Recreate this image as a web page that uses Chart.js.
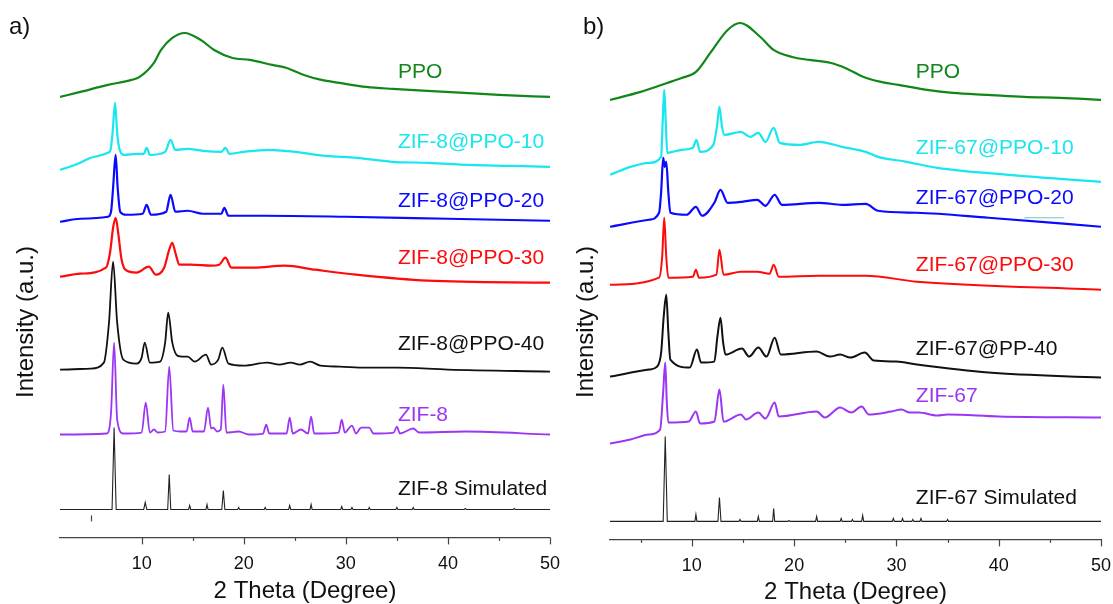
<!DOCTYPE html>
<html>
<head>
<meta charset="utf-8">
<script src="https://cdn.jsdelivr.net/npm/chart.js@4.4.1/dist/chart.umd.min.js"></script>
<style>
  body { margin: 0; background: #fff; overflow: hidden; }
  #wrap { position: relative; width: 1113px; height: 604px; }
  canvas { position: absolute; top: 0; }
  #chartA { left: 0; }
  #chartB { left: 556px; }
</style>
</head>
<body>
<div id="wrap">
  <canvas id="chartA" width="560" height="604"></canvas>
  <canvas id="chartB" width="557" height="604"></canvas>
</div>
<script>
// x axis ticks (2 Theta, degree)
const xTicks = [10, 20, 30, 40, 50];
const minorTicks = [5, 15, 25, 35, 45];

// ---- panel a) [2theta, offset intensity a.u.] ----
const ppoA = [[2,441],[4,446],[6.7,453],[9,458],[9.8,461],[11.2,475],[11.9,488],[13,500],[14.2,505],[15.8,498],[17.1,488],[18.9,480],[20.6,478],[22.8,473],[24.2,470],[25.9,463],[27.6,458],[29.4,455],[32,451],[34.6,449],[38,447],[41.6,445],[45,443],[50,441]];
const zif8Ppo10 = [[2,368],[3.5,373],[5,380],[6.7,385],[6.95,388],[7.15,405],[7.39,435],[7.6,405],[7.85,388],[8.3,383],[9.5,384],[10.2,384],[10.49,390],[10.8,383],[12.3,386],[12.83,398],[13.3,388],[14.5,389],[16,387],[17.8,386],[18.2,390],[18.6,384],[20,386],[22.4,388],[25,386],[28,382],[31.1,380],[34.5,376],[38.1,375],[42,373],[46,372],[50,371]];
const zif8Ppo20 = [[2,316],[4,319],[6.7,321],[7.0,326],[7.2,350],[7.45,383],[7.65,350],[7.9,326],[8.5,323],[10.1,324],[10.49,333],[10.9,323],[12.4,326],[12.83,343],[13.3,326],[14.5,327],[16,324],[17.8,324],[18.1,330],[18.5,322],[22,322],[30,321],[40,319],[50,317]];
const zif8Ppo30 = [[2,261],[4,264],[6.5,270],[6.9,285],[7.2,310],[7.45,320],[7.7,305],[8.0,280],[8.4,268],[9.5,265],[10.7,271],[11.4,263],[12.2,270],[12.7,288],[13.0,295],[13.3,285],[13.7,273],[14.8,273],[16.8,272],[17.6,273],[18.2,280],[18.8,270],[21,270],[24,272],[27,268],[31,263],[38,257],[50,255]];
const zif8Ppo40 = [[2,168],[5,169],[6.3,175],[6.8,215],[7.2,276],[7.6,215],[8.2,178],[9.5,174],[10.0,180],[10.3,195],[10.8,175],[11.8,176],[12.3,195],[12.6,225],[13.0,195],[13.5,182],[14.0,181],[14.5,181],[15.2,176],[16.3,183],[16.8,173],[17.5,178],[17.9,190],[18.5,174],[20,172],[22.3,175],[23.5,173],[24.6,175],[25.5,173],[26.5,176],[27.5,172],[29.4,171],[32,170],[35,170],[40,168],[50,166]];
const zif8 = [[2,103],[6.6,104],[7.0,125],[7.3,195],[7.6,118],[8.2,104],[10.0,105],[10.4,135],[10.8,105],[11.2,108],[11.6,105],[12.3,106],[12.7,171],[13.1,107],[13.8,106],[14.4,106],[14.7,120],[15.0,106],[16.1,106],[16.5,130],[16.8,109],[17.0,110],[17.4,106],[17.75,108],[18.0,153],[18.3,105],[19.5,106],[20.5,103],[21.9,104],[22.2,113],[22.5,104],[24.2,104],[24.5,120],[24.8,104],[25.6,108],[26.3,104],[26.6,121],[26.9,104],[29.3,105],[29.6,118],[29.9,105],[30.6,112],[31.0,104],[31.5,110],[32.3,110],[32.7,104],[34.7,105],[35.0,111],[35.3,104],[36.6,109],[37.2,105],[41.7,106],[50,103]];
const zif8Sim = [[2,28],[7.1,28],[7.3,110],[7.5,28],[10.2,28],[10.35,35],[10.5,28],[12.55,28],[12.7,63],[12.85,28],[14.6,28],[14.7,32],[14.8,28],[16.3,28],[16.4,33],[16.5,28],[17.85,28],[18.0,47],[18.15,28],[19.4,28],[19.5,30],[19.6,28],[22.0,28],[22.1,30],[22.2,28],[24.4,28],[24.5,32],[24.6,28],[26.5,28],[26.6,33],[26.7,28],[29.5,28],[29.6,31],[29.7,28],[30.5,28],[30.6,30],[30.7,28],[32.2,28],[32.3,30],[32.4,28],[34.9,28],[35.0,30],[35.1,28],[36.5,28],[36.6,30],[36.7,28],[41.6,28],[41.7,29],[41.8,28],[46.4,28],[46.5,29],[46.6,28],[50,28]];

// ---- panel b) ----
const ppoB = [[2,442],[5,450],[7.6,459],[9,464],[10.4,470],[11.8,489],[13.5,512],[14.7,519],[16.7,505],[18,492],[19.8,485],[21.5,482],[23.6,479],[25,474],[26.8,465],[28.5,460],[30.2,457],[33,452],[35.5,449],[39,447],[42.5,445],[46,444],[50,442]];
const zif67Ppo10 = [[2,367],[4,375],[5.8,379],[7.0,385],[7.15,420],[7.3,452],[7.45,420],[7.6,389],[9,392],[10.1,394],[10.45,402],[10.8,390],[12.1,397],[12.45,415],[12.7,435],[12.95,415],[13.2,407],[14.8,410],[15.7,405],[16.5,409],[17.2,400],[18.0,414],[18.6,399],[20.5,397],[22.4,400],[24.7,395],[27,390],[28.2,385],[31,380],[34,374],[41,367],[50,360]];
const zif67Ppo20 = [[2,315],[5.8,322],[6.8,329],[7.0,350],[7.2,384],[7.35,375],[7.5,380],[7.7,350],[7.9,329],[9.5,327],[10.4,335],[11,326],[12.2,339],[12.8,352],[13.5,339],[14.9,340],[16.4,342],[17.2,336],[18.1,347],[18.8,337],[22.4,339],[24.7,337],[27,338],[28.2,331],[32,329],[39,324],[50,315]];
const strayLine = [[42.5,324],[46.4,324]];
const zif67Ppo30 = [[2,257],[6.8,264],[7.1,285],[7.3,324],[7.5,285],[7.7,264],[10.1,265],[10.4,272],[10.7,264],[12.4,267],[12.7,292],[13.1,267],[14.8,270],[16.4,270],[17.6,268],[18.0,277],[18.5,265],[22.4,266],[27,266],[32,260],[50,252]];
const zif67Pp40 = [[2,165],[5.8,172],[6.6,175],[7.0,189],[7.25,225],[7.5,247],[7.7,210],[7.9,182],[9.8,174],[10.5,192],[10.9,179],[12.2,180],[12.5,205],[12.8,224],[13.05,200],[13.3,187],[14.9,193],[15.6,185],[16.5,194],[17.3,185],[18.1,204],[18.7,187],[22.2,190],[23.5,185],[24.5,187],[25.5,184],[26.9,189],[27.8,181],[30,180],[32,177],[39,169],[50,164]];
const zif67 = [[2,98],[4,102],[5.8,107],[6.9,112],[7.2,150],[7.4,179],[7.55,140],[7.7,119],[9.7,120],[10.4,130],[10.8,118],[12.2,120],[12.7,152],[13.1,120],[14.8,127],[15.3,122],[16.5,129],[17.2,123],[18.1,139],[18.5,125],[22.2,130],[23,124],[24.5,134],[25.6,129],[26.6,135],[27.3,127],[29.5,130],[30.5,132],[31.3,129],[32.2,129],[34,126],[35,127],[40,125],[50,124]];
const zif67Sim = [[2,20],[7.2,20],[7.4,105],[7.6,20],[10.3,20],[10.4,27],[10.5,20],[12.55,20],[12.7,44],[12.85,20],[14.6,20],[14.7,22],[14.8,20],[16.4,20],[16.5,25],[16.6,20],[17.9,20],[18.0,33],[18.1,20],[19.4,20],[19.5,21],[19.6,20],[22.1,20],[22.2,25],[22.3,20],[24.5,20],[24.6,23],[24.7,20],[25.6,20],[25.7,22],[25.8,20],[26.6,20],[26.7,26],[26.8,20],[29.6,20],[29.7,23],[29.8,20],[30.5,20],[30.6,23],[30.7,20],[31.5,20],[31.6,22],[31.7,20],[32.3,20],[32.4,23],[32.5,20],[34.9,20],[35.0,22],[35.1,20],[50,20]];

const FONT = '"Liberation Sans", Arial, sans-serif';
const GREEN = '#11871a', CYAN = '#19e6ee', BLUE = '#0a0aff', RED = '#ff0a0a', BLACK = '#111111', PURPLE = '#9b36f5';

function series(pts, color, width, smooth) {
  return {
    data: pts.map(p => ({ x: p[0], y: p[1] })),
    borderColor: color,
    borderWidth: width,
    pointRadius: 0,
    fill: false,
    tension: 0,
    cubicInterpolationMode: smooth ? 'monotone' : 'default'
  };
}

// draws tick marks, trace names, panel letter and y title
const annotPlugin = {
  id: 'annot',
  afterDraw(chart, args, opts) {
    const ctx = chart.ctx;
    const xs = chart.scales.x, ys = chart.scales.y;
    ctx.save();
    ctx.strokeStyle = '#444';
    ctx.lineWidth = 1.2;
    const tick = (v, len) => {
      const px = Math.round(xs.getPixelForValue(v)) + 0.5;
      ctx.beginPath();
      ctx.moveTo(px, xs.top);
      ctx.lineTo(px, xs.top + len);
      ctx.stroke();
    };
    xTicks.forEach(v => tick(v, 7));
    opts.minor.forEach(v => tick(v, 3.5));
    if (opts.stray) {
      const px = Math.round(xs.getPixelForValue(opts.stray.x)) + 0.5;
      ctx.beginPath();
      ctx.moveTo(px, ys.getPixelForValue(opts.stray.y0));
      ctx.lineTo(px, ys.getPixelForValue(opts.stray.y1));
      ctx.stroke();
    }
    ctx.font = '21px ' + FONT;
    ctx.textAlign = 'left';
    ctx.textBaseline = 'middle';
    opts.labels.forEach(l => {
      ctx.fillStyle = l.color;
      ctx.fillText(l.text, xs.getPixelForValue(opts.labelX), ys.getPixelForValue(l.y));
    });
    ctx.fillStyle = '#111';
    ctx.font = '24px ' + FONT;
    ctx.fillText(opts.letter, opts.letterPos[0], opts.letterPos[1]);
    ctx.translate(opts.yTitlePos[0], opts.yTitlePos[1]);
    ctx.rotate(-Math.PI / 2);
    ctx.textAlign = 'center';
    ctx.fillText('Intensity (a.u.)', 0, 0);
    ctx.restore();
  }
};

function makeChart(id, datasets, yMin, yMax, padding, titlePad, annot) {
  return new Chart(document.getElementById(id), {
    type: 'line',
    data: { datasets: datasets },
    options: {
      responsive: false,
      animation: false,
      layout: { padding: padding },
      plugins: { legend: { display: false }, tooltip: { enabled: false }, annot: annot },
      scales: {
        x: {
          type: 'linear', min: 2, max: 50,
          afterBuildTicks: s => { s.ticks = xTicks.map(v => ({ value: v })); },
          border: { display: true, color: '#444', width: 1.2 },
          grid: { display: true, drawOnChartArea: false, drawTicks: true, tickLength: 16, tickColor: 'rgba(0,0,0,0)' },
          ticks: { color: '#111', font: { family: FONT, size: 18 }, padding: 0, maxRotation: 0, autoSkip: false },
          title: { display: true, text: '2 Theta (Degree)', color: '#111', font: { family: FONT, size: 24, lineHeight: 1 }, padding: { top: titlePad, bottom: 0 } }
        },
        y: { display: false, min: yMin, max: yMax }
      }
    },
    plugins: [annotPlugin]
  });
}

makeChart('chartA', [
  series(ppoA, GREEN, 2.2, true),
  series(zif8Ppo10, CYAN, 2.2, true),
  series(zif8Ppo20, BLUE, 2.2, true),
  series(zif8Ppo30, RED, 2.2, true),
  series(zif8Ppo40, BLACK, 1.8, true),
  series(zif8, PURPLE, 1.8, true),
  series(zif8Sim, '#222', 1.1, false)
], 0, 524, { left: 60, right: 10, top: 14, bottom: 1 }, 4, {
  minor: minorTicks.slice(1),
  stray: { x: 5, y0: 22, y1: 16 },
  labelX: 35.1,
  labels: [
    { text: 'PPO', y: 466, color: GREEN },
    { text: 'ZIF-8@PPO-10', y: 396, color: CYAN },
    { text: 'ZIF-8@PPO-20', y: 337, color: BLUE },
    { text: 'ZIF-8@PPO-30', y: 280, color: RED },
    { text: 'ZIF-8@PPO-40', y: 193, color: BLACK },
    { text: 'ZIF-8', y: 122, color: PURPLE },
    { text: 'ZIF-8 Simulated', y: 48, color: BLACK }
  ],
  letter: 'a)', letterPos: [9, 27], yTitlePos: [26, 322]
});

makeChart('chartB', [
  series(ppoB, GREEN, 2.2, true),
  series(zif67Ppo10, CYAN, 2.2, true),
  series(zif67Ppo20, BLUE, 2.2, true),
  series(strayLine, '#6fc4cc', 1.2, false),
  series(zif67Ppo30, RED, 2.0, true),
  series(zif67Pp40, BLACK, 2.0, true),
  series(zif67, PURPLE, 2.0, true),
  series(zif67Sim, '#222', 1.1, false)
], 2, 528, { left: 54, right: 12, top: 14, bottom: 0 }, 3, {
  minor: minorTicks,
  labelX: 31.9,
  labels: [
    { text: 'PPO', y: 470, color: GREEN },
    { text: 'ZIF-67@PPO-10', y: 394, color: CYAN },
    { text: 'ZIF-67@PPO-20', y: 344, color: BLUE },
    { text: 'ZIF-67@PPO-30', y: 277, color: RED },
    { text: 'ZIF-67@PP-40', y: 192, color: BLACK },
    { text: 'ZIF-67', y: 145, color: PURPLE },
    { text: 'ZIF-67 Simulated', y: 43, color: BLACK }
  ],
  letter: 'b)', letterPos: [27, 27], yTitlePos: [30, 322]
});
</script>
</body>
</html>
